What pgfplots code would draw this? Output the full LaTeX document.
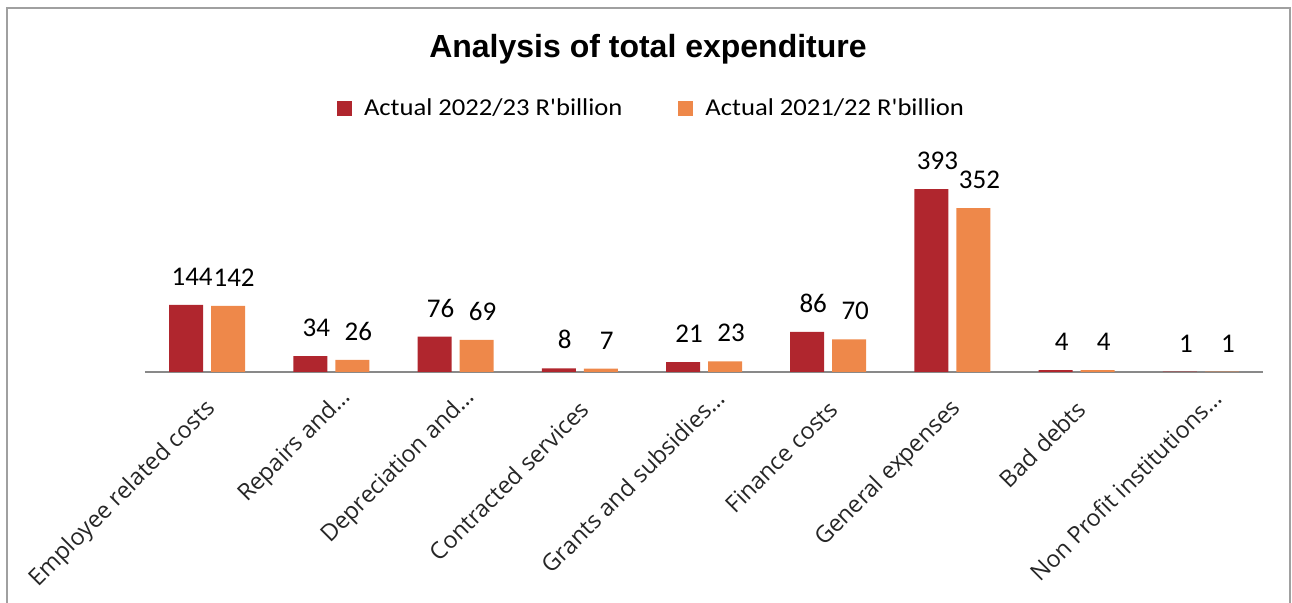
\documentclass[border=0pt]{standalone}
\usepackage{pgfplots}
\pgfplotsset{compat=1.18}
\usepackage{fontspec}
\setmainfont{Open Sans}
\newfontfamily\calib{Carlito}
\newfontfamily\legfont[FakeStretch=1.1]{Carlito}
\newfontfamily\titlefont{Liberation Sans}
\definecolor{cred}{RGB}{176,38,46}
\definecolor{corange}{RGB}{238,136,74}
\definecolor{axgray}{RGB}{137,137,137}
\definecolor{framegray}{RGB}{160,160,160}
\begin{document}
\begin{tikzpicture}[x=0.5pt,y=0.5pt]
\useasboundingbox (0,0) rectangle (1292,603);
\draw[framegray, line width=1.1pt] (7,-20) rectangle (1290,595);
\node[font=\titlefont\bfseries\fontsize{16}{19}\selectfont, anchor=base, inner sep=0pt] at (648,545) {Analysis of total expenditure};
\begin{axis}[
  at={(72.5pt,115.5pt)}, anchor=south west,
  scale only axis, width=559pt, height=111pt,
  xmin=-0.5, xmax=8.5, ymin=0, ymax=477,
  axis x line=bottom, axis y line=none,
  x axis line style={-, axgray, line width=1pt},
  ybar,
  /pgf/number format/assume math mode=true,
  xtick={0,...,8},
  xticklabels={Employee related costs, Repairs and…\hspace*{-8pt}, Depreciation and…\hspace*{-8pt}, Contracted services, Grants and subsidies…\hspace*{-8pt}, Finance costs, General expenses, Bad debts, Non Profit institutions…\hspace*{-8pt}},
  major tick length=0pt,
  xticklabel style={xshift=2.5pt, yshift=-16.5pt, rotate=45, anchor=east, font=\fontsize{11.7}{14}\selectfont, inner sep=0pt, text=black!85},
  ytick=\empty,
  nodes near coords,
  nodes near coords style={font=\calib\fontsize{13.5}{16}\selectfont, anchor=south, inner sep=0pt, yshift=9.5pt, xshift=3pt, text=black},
  legend columns=2,
  legend style={at={(axis description cs:0.4575,1.185)}, anchor=center, draw=none, fill=none,
    font=\legfont\fontsize{12.1}{14}\selectfont,
    nodes={inner xsep=6pt},
    /tikz/every even column/.append style={column sep=22pt}},
  legend image code/.code={\fill[#1] (0pt,-3.75pt) rectangle (7.5pt,3.75pt);},
]
\addplot[fill=cred, draw=none, bar width=17pt, bar shift=-10.5pt] coordinates {(0,144) (1,34) (2,76) (3,8) (4,21) (5,86) (6,393) (7,4) (8,1)};
\addlegendentry{Actual 2022/23 R'billion}
\addplot[fill=corange, draw=none, bar width=17pt, bar shift=10.5pt] coordinates {(0,142) (1,26) (2,69) (3,7) (4,23) (5,70) (6,352) (7,4) (8,1)};
\addlegendentry{Actual 2021/22 R'billion}
\end{axis}
\end{tikzpicture}
\end{document}
